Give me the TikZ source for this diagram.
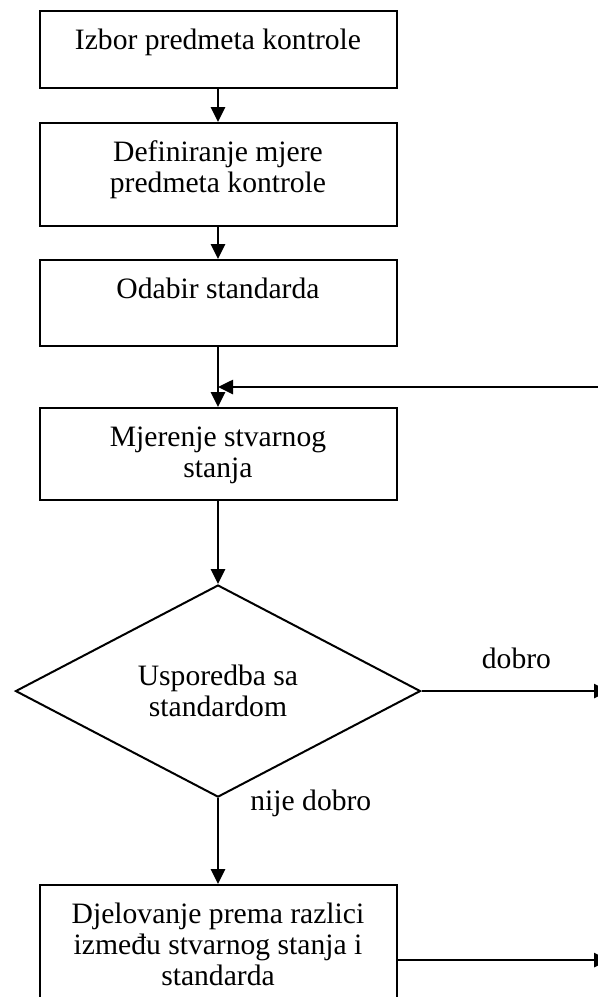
\documentclass[tikz,border=0pt]{standalone}
\usepackage{fontspec}
\setmainfont{Liberation Serif}
\usetikzlibrary{positioning,shapes.geometric,arrows.meta}
\newcommand{\boxlabel}[2]{\parbox[t][#1][t]{170pt}{\centering\rule{0pt}{19pt}#2}}

\begin{document}
\begin{tikzpicture}[
		block/.style={rectangle, draw=black, line width=1pt, minimum width=178.5pt, inner sep=0pt},
		decision/.style={diamond, draw=black, line width=1pt, minimum width=202.5pt, minimum height=101.5pt, inner sep=0pt, align=center},
		arr/.style={-{Triangle[width=7pt,length=7.5pt]}, line width=1.3pt},
		lbl/.style={inner sep=0pt},
		font=\fontsize{14.8}{15.5}\selectfont,
		]
		\useasboundingbox (0,0) rectangle (299pt,-498.5pt);

		%Main Nodes
		\node[block, anchor=north]	(choose)	at (109pt,-5pt)	{\boxlabel{38.5pt}{Izbor predmeta kontrole}};
		\node[block]	(define)	[below=16.5pt of choose]	{\boxlabel{51.5pt}{Definiranje mjere\\predmeta kontrole}};
		\node[block]	(standard)	[below=16pt of define]		{\boxlabel{43pt}{Odabir standarda}};
		\node[block]	(measure)	[below=30pt of standard]	{\boxlabel{46pt}{Mjerenje stvarnog\\stanja}};
		\node[decision]	(compare)	[below=41.5pt of measure]	{Usporedba sa\\standardom};
		\node[block]	(act)		[below=43pt of compare]		{\boxlabel{75pt}{Djelovanje prema razlici\\između stvarnog stanja i\\standarda}};

		%Main Lines
		\draw[arr]	(choose)	--	(define);
		\draw[arr]	(define)	--	(standard);
		\draw[arr]	(standard)	--	(measure);
		\draw[arr]	(measure)	--	(compare);
		\draw[arr]	(compare)	--	(act);

		%Outgoing and feedback
		\coordinate	(back)		at ([xshift=200pt, yshift=10pt]measure.north);
		\coordinate	(good_end)	at ([xshift=93.75pt]compare.east);
		\coordinate	(act_end)	at (good_end |- act.east);
		\draw[arr]	(back)			--	(back -| measure.north);
		\draw[arr]	(compare.east)	--	(good_end);
		\draw[arr]	(act.east)		--	(act_end);

		%Labels
		\node[lbl, anchor=base west]	(good)	at ([xshift=30pt, yshift=11.5pt]compare.east)	{dobro};
		\node[lbl, anchor=base west]	(bad)	at ([xshift=16pt, yshift=-6pt]compare.south)	{nije dobro};

	\end{tikzpicture}
\end{document}
